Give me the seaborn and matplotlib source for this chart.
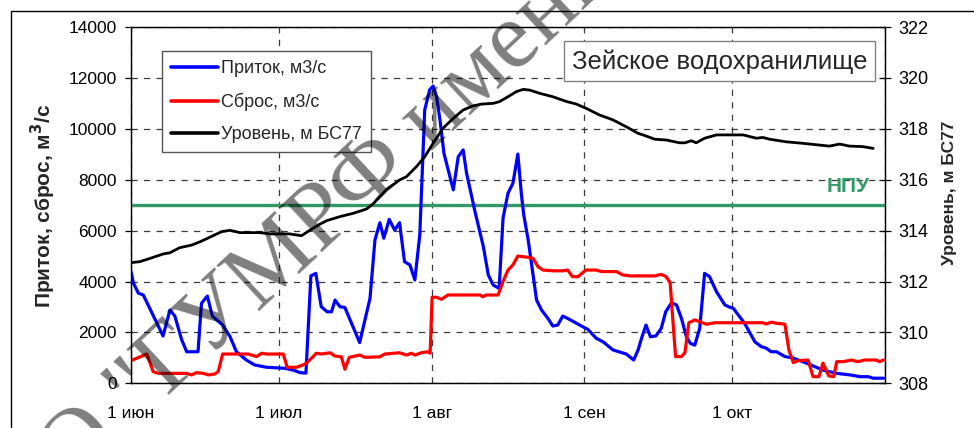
import numpy as np
import pandas as pd
import matplotlib
matplotlib.use("Agg")
import matplotlib.pyplot as plt
from matplotlib.patches import Rectangle
from matplotlib.lines import Line2D
import seaborn as sns

# ---- data: day offsets from 1 June and the readings on those days ----
season_start = pd.Timestamp("2013-06-01")

inflow_day = [0, 0.5, 1.5, 2.5, 6.5, 7.9, 8.9, 10.3, 11.3, 13.6, 14.3, 15.5, 16.5,
              18.6, 20.1, 21.4, 23.4, 25.1, 27.5, 31.2, 32.9, 34.3, 35.5, 36.5,
              37.5, 38.6, 39.8, 40.7, 41.4, 42.4, 43.4, 46.4, 48.5, 49.5, 50.5,
              51.3, 52.4, 53.5, 54.5, 55.5, 56.6, 57.6, 58.6, 59.6, 60.6, 61.3,
              62.0, 62.7, 63.5, 65.4, 66.4, 67.4, 68.1, 69.8, 71.5, 72.5, 73.5,
              74.7, 75.5, 76.5, 77.5, 78.5, 79.2, 79.7, 80.6, 82.3, 83.3, 84.6,
              85.6, 86.6, 87.6, 88.6, 91.7, 92.7, 94.4, 95.8, 97.8, 100.5, 102.0,
              102.9, 103.6, 104.5, 105.4, 106.5, 107.6, 108.5, 109.7, 110.7,
              111.7, 112.7, 113.5, 114.4, 115.4, 116.4, 117.4, 118.8, 120.5,
              121.5, 122.2, 124.5, 126.6, 127.9, 128.9, 129.9, 131.0, 132.7,
              134.4, 137.1, 140.4, 143.2, 145.9, 147.9, 149.6, 150.6, 152.7]
inflow = [4400, 3930, 3540, 3470, 1860, 2880, 2640, 1700, 1240, 1240, 3140, 3430, 2640,
          2290, 1830, 1240, 915, 720, 630, 590, 520, 420, 400, 4220,
          4320, 3010, 2810, 2810, 3270, 3010, 2980, 1600, 3340, 5630, 6310,
          5700, 6440, 6020, 6310, 4780, 4650, 4060, 5830, 10740, 11530, 11680,
          11260, 10350, 9040, 7600, 8900, 9170, 8250, 6750, 5370, 4260, 3860,
          3730, 6500, 7470, 7860, 9010, 7470, 6610, 5630, 3270, 2880, 2550,
          2250, 2290, 2640, 2550, 2220, 2120, 1770, 1630, 1310, 1150, 915,
          1310, 1770, 2290, 1830, 1860, 2160, 2810, 3170, 3080,
          2550, 1830, 1570, 1500, 2160, 4320, 4190, 3600, 3080,
          2990, 2950, 2360, 1630, 1440, 1380, 1240, 1240, 1050,
          990, 790, 520, 390, 330, 260, 260, 200, 200]

outflow_day = [0, 3.2, 4.5, 5.5, 11.3, 12.3, 13.3, 14.7, 15.7, 17.0, 17.7, 18.6,
               23.8, 25.5, 26.5, 27.5, 30.9, 31.7, 33.6, 34.9, 35.6, 36.6, 37.6,
               38.7, 40.4, 41.4, 42.7, 43.4, 44.3, 46.4, 47.5, 50.5, 51.5, 54.5,
               55.9, 56.9, 57.6, 58.9, 60.3, 60.7, 61.1, 62.0, 63.0, 64.3, 70.8,
               71.4, 72.1, 74.5, 75.5, 76.5, 77.5, 78.5, 80.2, 81.6, 82.6, 83.6,
               85.6, 87.6, 88.6, 89.6, 90.7, 92.3, 94.4, 95.5, 98.5, 99.8, 101.2,
               106.3, 107.6, 108.6, 109.4, 110.5, 111.7, 112.4, 113.2, 114.4,
               115.4, 116.8, 118.5, 128.2, 128.9, 129.9, 131.0, 132.7, 133.5,
               134.4, 135.4, 137.4, 138.4, 139.6, 140.4, 141.6, 142.6, 143.2,
               144.5, 146.2, 147.5, 148.9, 151.2, 151.9, 152.7]
outflow = [890, 1150, 460, 390, 390, 330, 420, 390, 330, 365, 460, 1150,
           1150, 1050, 1180, 1150, 1150, 630, 630, 720, 790, 980, 1180,
           1150, 1200, 1070, 1040, 550, 1020, 1110, 1020, 1040, 1150, 1200,
           1110, 1180, 1110, 1200, 1240, 1180, 3380, 3380, 3300, 3470, 3470,
           3400, 3470, 3470, 4000, 4450, 4650, 5000, 4960, 4910, 4580, 4450,
           4420, 4420, 4450, 4190, 4190, 4450, 4450, 4390, 4390, 4260, 4220,
           4220, 4280, 4190, 3950, 1050, 1050, 1200, 2380, 2490,
           2420, 2320, 2380, 2380, 2330, 2400, 2360, 2320, 1310,
           810, 890, 915, 260, 260, 790, 290, 260, 850,
           850, 915, 850, 915, 915, 850, 915]

level_day = [0, 1.8, 3.9, 6.5, 7.9, 9.9, 12.3, 14.0, 16.0, 18.4, 20.1, 22.1, 26.2,
             28.2, 32.2, 34.6, 36.1, 38.3, 39.7, 42.4, 45.1, 47.8, 49.1, 50.5,
             51.8, 54.5, 55.9, 57.9, 59.6, 61.3, 63.3, 65.4, 67.4, 69.4, 71.1,
             73.5, 74.8, 76.5, 78.2, 79.6, 80.9, 83.0, 85.6, 88.4, 90.4, 92.4,
             95.1, 97.8, 100.5, 102.9, 103.9, 106.3, 108.6, 111.3, 112.4, 113.7,
             114.7, 116.4, 118.8, 121.5, 124.2, 126.9, 128.2, 129.6, 132.9,
             136.3, 141.7, 143.8, 145.8, 148.5, 150.6]
level = [312.74, 312.78, 312.91, 313.08, 313.13, 313.33, 313.43, 313.56, 313.74,
         313.96, 314.01, 313.92, 313.92, 313.87, 313.87, 313.80, 313.99, 314.25,
         314.39, 314.55, 314.68, 314.85, 315.05, 315.33, 315.60, 315.99, 316.12,
         316.51, 316.90, 317.43, 318.02, 318.41, 318.74, 318.90, 318.97, 319.00,
         319.07, 319.26, 319.46, 319.55, 319.52, 319.39, 319.26, 319.07, 318.97,
         318.80, 318.54, 318.35, 318.08, 317.82, 317.76, 317.59, 317.56, 317.45,
         317.45, 317.53, 317.45, 317.63, 317.76, 317.76, 317.76, 317.63, 317.66,
         317.59, 317.49, 317.43, 317.32, 317.40, 317.32, 317.30, 317.23]

npu_flow = 7000          # НПУ drawn on the flow axis (315 m on the level axis)
npu_level = 315
month_labels = ["1 июн", "1 июл", "1 авг", "1 сен", "1 окт", ""]
flow_ticks = list(range(0, 14001, 2000))
level_ticks = list(range(308, 323, 2))

series_names = ["Приток, м3/с", "Сброс, м3/с", "Уровень, м БС77"]
series_colors = ["#0000FF", "#FF0000", "#000000"]
npu_color = "#339966"


def to_frame(days, values):
    return pd.DataFrame({
        "date": season_start + pd.to_timedelta(np.asarray(days, dtype=float), unit="D"),
        "value": values,
    })


inflow_df = to_frame(inflow_day, inflow)
outflow_df = to_frame(outflow_day, outflow)
level_df = to_frame(level_day, level)

# ---- styling ----
sns.set_style("white")
plt.rcParams["font.family"] = ["Liberation Sans", "DejaVu Sans"]
plt.rcParams["axes.linewidth"] = 0.9

fig = plt.figure(figsize=(9.74, 4.28), dpi=100)
ax = fig.add_axes([131 / 974, 1 - 383.3 / 428, 754 / 974, 356.3 / 428])
ax2 = ax.twinx()

# outer chart frame
fig.patches.append(Rectangle((11 / 974, -0.2), 2.0, 1.2 - 10.7 / 428,
                             transform=fig.transFigure, fill=False,
                             edgecolor="black", linewidth=1.0, zorder=0))

ax.axhline(npu_flow, color=npu_color, linewidth=2.4, zorder=3)

sns.lineplot(data=inflow_df, x="date", y="value", ax=ax, color=series_colors[0],
             linewidth=2.3, estimator=None, sort=False, zorder=4)
sns.lineplot(data=outflow_df, x="date", y="value", ax=ax, color=series_colors[1],
             linewidth=2.3, estimator=None, sort=False, zorder=5)
sns.lineplot(data=level_df, x="date", y="value", ax=ax2, color=series_colors[2],
             linewidth=2.0, estimator=None, sort=False, zorder=4)

# x axis: months
month_starts = pd.date_range(season_start, periods=6, freq="MS")
ax.set_xlim(month_starts[0], month_starts[-1])
ax.set_xticks(month_starts)
ax.set_xticklabels(month_labels, fontsize=12.5)
ax.set_xlabel("")

# flow axis
ax.set_ylim(0, 14000)
ax.set_yticks(flow_ticks)
ax.set_yticklabels([str(v) for v in flow_ticks], fontsize=12.5)
ax.set_ylabel("Приток, сброс, м$^\\mathbf{3}$/с", fontsize=15, fontweight="bold")
ax.yaxis.set_label_coords(-0.1167, 0.4976)
ax.yaxis.label.set_va("center")

# level axis
ax2.set_ylim(308, 322)
ax2.set_yticks(level_ticks)
ax2.set_yticklabels([str(v) for v in level_ticks], fontsize=13)
ax2.set_ylabel("Уровень, м БС77", fontsize=12.5, fontweight="bold")
ax2.yaxis.set_label_coords(1.0862, 0.5355)
ax2.yaxis.label.set_va("center")

grid_kw = dict(color="#3a3a3a", linewidth=0.9, linestyle=(0, (5, 5)))
ax.grid(True, axis="both", **grid_kw)
ax.set_axisbelow(True)

ax.tick_params(axis="y", direction="out", length=4, width=0.9, pad=6, colors="black")
ax.tick_params(axis="x", direction="inout", length=9, width=0.9, pad=12, colors="black")
ax2.tick_params(axis="y", direction="inout", length=9, width=0.9, pad=5, colors="black")
for a in (ax, ax2):
    for s in a.spines.values():
        s.set_visible(True)
        s.set_color("black")
        s.set_linewidth(0.9)

# legend
handles = [Line2D([], [], color=c, linewidth=2.6) for c in series_colors]
leg = ax2.legend(handles, series_names, loc="upper left",
                 bbox_to_anchor=(30.7 / 754, 332.3 / 356.3), borderaxespad=0,
                 fontsize=13, frameon=True, fancybox=False, framealpha=1,
                 edgecolor="#555555", handlelength=2.6, handletextpad=0.17,
                 labelspacing=0.86, borderpad=0.5)
leg.get_frame().set_linewidth(1.0)
leg.set_zorder(20)

# reservoir name
ax2.text(0.7804, 0.9035, "Зейское водохранилище", transform=ax2.transAxes,
         fontsize=18.5, ha="center", va="center", zorder=21,
         bbox=dict(boxstyle="square,pad=0.3", facecolor="white",
                   edgecolor="#808080", linewidth=1.0))

ax2.text(0.980, npu_level + 0.5, "НПУ", transform=ax2.get_yaxis_transform(),
         fontsize=15, fontweight="bold", color=npu_color, ha="right",
         va="baseline", zorder=21)

# diagonal watermark
fig.text(71.6 / 974, 1 - 487 / 428, 'О "ГУМРФ имени', rotation=43,
         rotation_mode="anchor", ha="left", va="baseline", fontsize=69,
         family=["Liberation Serif", "DejaVu Serif"], color="black",
         alpha=0.5, zorder=30)

fig.savefig("out.png", dpi=100)
